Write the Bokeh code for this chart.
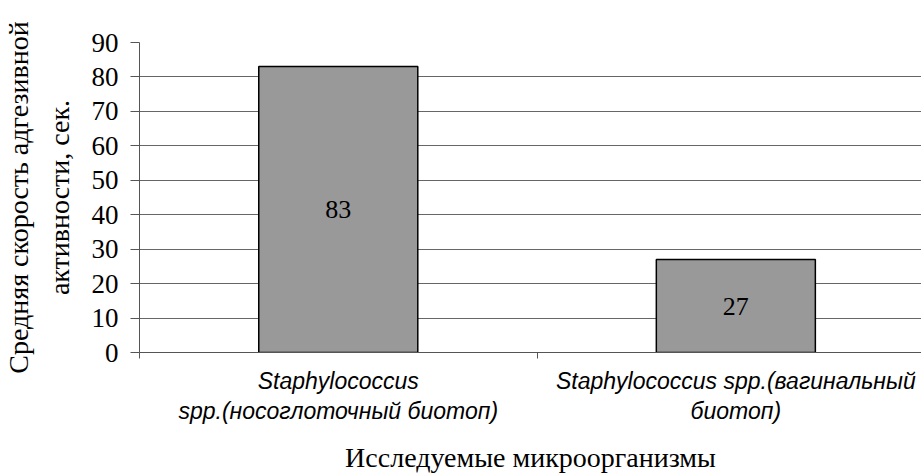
from bokeh.plotting import figure
from bokeh.models import Range1d, FixedTicker, ColumnDataSource
from bokeh.core.properties import value
from bokeh.embed import file_html
from bokeh.resources import INLINE

categories = ["Staphylococcus\nspp.(носоглоточный биотоп)",
              "Staphylococcus spp.(вагинальный\nбиотоп)"]
values = [83, 27]
y_ticks = [0, 10, 20, 30, 40, 50, 60, 70, 80, 90]
y_title = "Средняя скорость адгезивной\nактивности, сек."
x_title = "Исследуемые микроорганизмы"

xpos = [i + 0.5 for i in range(len(categories))]
src = ColumnDataSource(dict(x=xpos, top=values, mid=[v / 2 for v in values],
                            lab=[str(v) for v in values]))

p = figure(width=921, height=475, output_backend="svg", toolbar_location=None,
           x_range=Range1d(0, 1.967), y_range=Range1d(0, 90),
           min_border_left=138, min_border_right=0, min_border_top=42,
           min_border_bottom=123)
p.outline_line_color = None
p.background_fill_color = "white"
p.border_fill_color = "white"

p.vbar(x="x", top="top", width=0.4, source=src, fill_color="#999999",
       line_color="black", line_width=1.5)
p.text(x="x", y="mid", text="lab", source=src, text_align="center",
       text_baseline="middle", text_font=value("Liberation Serif"),
       text_font_size="26px", text_color="black")

# y axis
ya = p.yaxis[0]
ya.ticker = FixedTicker(ticks=y_ticks)
ya.axis_line_color = "#555555"
ya.major_tick_line_color = "#555555"
ya.major_tick_out = 9
ya.major_tick_in = 0
ya.minor_tick_line_color = None
ya.major_label_text_font = "Liberation Serif"
ya.major_label_text_font_size = "27px"
ya.major_label_text_color = "black"
ya.major_label_standoff = 12
ya.axis_label = y_title
ya.axis_label_text_font = "Liberation Serif"
ya.axis_label_text_font_size = "28px"
ya.axis_label_text_font_style = "normal"
ya.axis_label_text_color = "black"
ya.axis_label_text_line_height = 1.3
ya.axis_label_standoff = 14

# x axis
xa = p.xaxis[0]
xa.ticker = FixedTicker(ticks=xpos, minor_ticks=[0, 1, 2])
xa.major_label_overrides = {xpos[i]: categories[i] for i in range(len(categories))}
xa.axis_line_color = "#555555"
xa.major_tick_line_color = None
xa.major_tick_out = 0
xa.major_tick_in = 0
xa.minor_tick_line_color = "#555555"
xa.minor_tick_out = 6
xa.minor_tick_in = 0
xa.major_label_text_font = "Liberation Sans"
xa.major_label_text_font_style = "italic"
xa.major_label_text_font_size = "23px"
xa.major_label_text_color = "black"
xa.major_label_text_line_height = 1.17
xa.major_label_standoff = 9
xa.axis_label = x_title
xa.axis_label_text_font = "Liberation Serif"
xa.axis_label_text_font_size = "28px"
xa.axis_label_text_font_style = "normal"
xa.axis_label_text_color = "black"
xa.axis_label_standoff = 15

p.xgrid.visible = False
p.ygrid.grid_line_color = "#666666"
p.ygrid.grid_line_width = 1

open("out.html", "w").write(file_html(p, INLINE))
